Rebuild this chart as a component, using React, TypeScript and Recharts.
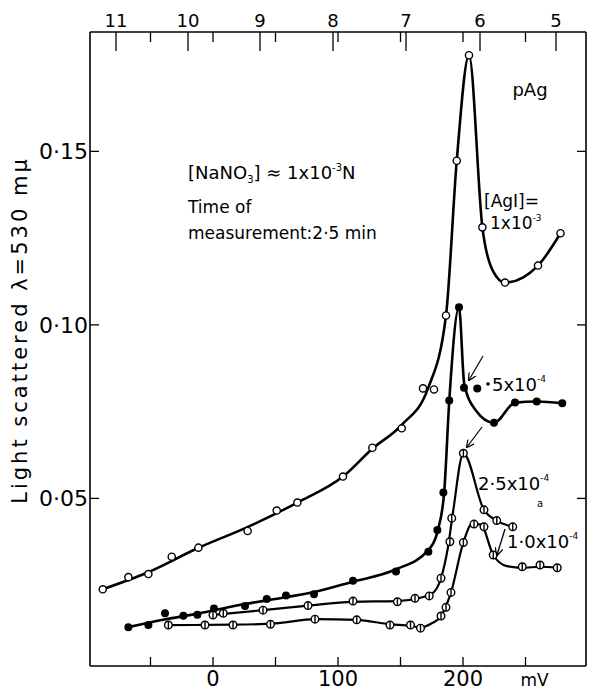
import React from 'react';
import { ComposedChart, Line, Scatter, XAxis, YAxis } from 'recharts';

// [mV, light scattered]
const agI1e3Points: [number, number][] = [
  [-88.2, 0.0238], [-67.7, 0.0273], [-51.7, 0.0282], [-33, 0.0332], [-11.7, 0.0358],
  [27.7, 0.0406], [51, 0.0465], [67.5, 0.0488], [104, 0.0563], [127.5, 0.0646],
  [151, 0.0702], [168, 0.0817], [176.8, 0.0814], [186.4, 0.1027], [195, 0.1473],
  [204.8, 0.1777], [215.5, 0.1281], [233.6, 0.1122], [260, 0.1171], [278, 0.1264],
];
const agI1e3Curve: [number, number][] = [
  [-88.2, 0.0238], [-52, 0.0287], [-12, 0.0357], [28, 0.0418], [67.5, 0.0488],
  [104, 0.0563], [127.5, 0.0643], [151, 0.0712], [172, 0.0817], [186.4, 0.1027],
  [195, 0.1473], [204.8, 0.1777], [215.5, 0.1281], [224, 0.1155], [233.6, 0.1122],
  [260, 0.1171], [278, 0.1264],
];

const agI5e4Points: [number, number][] = [
  [-67.7, 0.0129], [-51.7, 0.0135], [-38.4, 0.0169], [-23.7, 0.0162], [-12.5, 0.0165],
  [0.8, 0.0183], [25.6, 0.019], [43, 0.021], [58.4, 0.022], [80.8, 0.0224],
  [112, 0.0263], [146.4, 0.0289], [172.3, 0.0346], [179.5, 0.0409], [184.3, 0.0517],
  [189, 0.0782], [196.8, 0.1051], [200.8, 0.0819], [211.4, 0.0817], [224.8, 0.0718],
  [241.6, 0.0776], [259, 0.0779], [279.4, 0.0774],
];
const agI5e4Curve: [number, number][] = [
  [-67.7, 0.0129], [-40, 0.015], [-12, 0.0168], [20, 0.0192], [58, 0.0215],
  [81, 0.023], [112, 0.026], [146, 0.0295], [172, 0.035], [180, 0.041],
  [185, 0.052], [189, 0.078], [196.8, 0.1051], [201, 0.083], [210, 0.0755],
  [224.8, 0.0718], [241.6, 0.0776], [259, 0.0779], [279.4, 0.0774],
];

const agI25e5Points: [number, number][] = [
  [0, 0.0164], [8.2, 0.0169], [40, 0.0178], [76, 0.0191], [112, 0.0204],
  [147.5, 0.0202], [161.6, 0.0212], [173, 0.0219], [182.4, 0.027], [189.5, 0.0375],
  [191, 0.0443], [200.3, 0.063], [216.8, 0.0467], [227, 0.0436], [239.8, 0.0418],
];
const agI25e5Curve: [number, number][] = [
  [0, 0.0164], [40, 0.0178], [76, 0.0191], [112, 0.0202], [147, 0.0204],
  [165, 0.0213], [175, 0.0225], [182.4, 0.027], [188, 0.036], [192, 0.046],
  [200.3, 0.063], [216.8, 0.0467], [227, 0.0436], [239.8, 0.0418],
];

const agI1e4Points: [number, number][] = [
  [-35.7, 0.0135], [-6.4, 0.0135], [16, 0.0135], [46, 0.0137], [81.6, 0.0152],
  [115, 0.015], [141.6, 0.0135], [158, 0.0135], [166, 0.0126], [182.4, 0.0161],
  [186.4, 0.0186], [190.4, 0.0229], [200.3, 0.0373], [208.8, 0.0426], [216.8, 0.0418],
  [224.2, 0.0337], [247.4, 0.0303], [261.6, 0.0308], [275.4, 0.03],
];
const agI1e4Curve: [number, number][] = [
  [-35.7, 0.0135], [16, 0.0136], [50, 0.014], [82, 0.0152], [115, 0.015],
  [142, 0.0137], [158, 0.0133], [166, 0.0128], [175, 0.014], [182.4, 0.0161],
  [190.4, 0.0229], [200.3, 0.0373], [207, 0.0425], [214, 0.0425], [224.2, 0.0337],
  [235, 0.0305], [247.4, 0.03], [261.6, 0.0303], [275.4, 0.03],
];

// axis ticks
const mvTicks = [-50, 0, 50, 100, 150, 200, 250];
const mvLabels: Record<number, string> = { 0: '0', 100: '100', 200: '200', 250: 'mV' };
const pAgLabels = ['11', '10', '9', '8', '7', '6', '5'];
const pAgAtMv = [-77.6, -20, 37.6, 96, 154.4, 213.6, 274.4];
const lsTicks = [0.05, 0.1, 0.15];
const lsLabels = ['0·05', '0·10', '0·15'];

const toRows = (arr: [number, number][]) => arr.map(([mv, ls]) => ({ mv, ls }));

const W = 590;
const H = 691;
const PLOT = { left: 90, right: 586, top: 32, bottom: 666 };
const FONT = '"DejaVu Sans", sans-serif';

const BottomTick = (props: any) => {
  const { x, payload } = props;
  const label = mvLabels[payload.value];
  return (
    <g>
      <line x1={x} x2={x} y1={PLOT.bottom} y2={PLOT.bottom - 9} stroke="#000" strokeWidth={1.3} />
      {label && (
        <text x={label === 'mV' ? x + 9 : x} y={PLOT.bottom + 20} textAnchor="middle" fontSize={label === 'mV' ? 17 : 21} fontFamily={FONT} fill="#000">
          {label}
        </text>
      )}
    </g>
  );
};

const TopTick = (props: any) => {
  const { x, payload } = props;
  const i = pAgAtMv.indexOf(payload.value);
  if (i < 0) {
    return <line x1={x} x2={x} y1={PLOT.top} y2={PLOT.top + 10} stroke="#000" strokeWidth={1.3} />;
  }
  return (
    <g>
      <line x1={x} x2={x} y1={PLOT.top} y2={PLOT.top + 19} stroke="#000" strokeWidth={1.3} />
      <text x={x} y={PLOT.top - 5} textAnchor="middle" fontSize={18} fontFamily={FONT} fill="#000">
        {pAgLabels[i]}
      </text>
    </g>
  );
};

const LeftTick = (props: any) => {
  const { y, payload } = props;
  const i = lsTicks.indexOf(payload.value);
  return (
    <g>
      <line x1={PLOT.left} x2={PLOT.left + 9} y1={y} y2={y} stroke="#000" strokeWidth={1.3} />
      <text x={PLOT.left - 2} y={y + 8} textAnchor="end" fontSize={22} fontFamily={FONT} fill="#000">
        {lsLabels[i]}
      </text>
    </g>
  );
};

const RightTick = (props: any) => {
  const { y } = props;
  return <line x1={PLOT.right} x2={PLOT.right - 9} y1={y} y2={y} stroke="#000" strokeWidth={1.3} />;
};

const OpenDot = (p: any) => (
  <circle cx={p.cx} cy={p.cy} r={3.6} fill="#fff" stroke="#000" strokeWidth={1.4} />
);
const FilledDot = (p: any) => <circle cx={p.cx} cy={p.cy} r={4} fill="#000" />;
const BarDot = (p: any) => (
  <g>
    <circle cx={p.cx} cy={p.cy} r={3.8} fill="#fff" stroke="#000" strokeWidth={1.4} />
    <line x1={p.cx} x2={p.cx} y1={p.cy - 3.8} y2={p.cy + 3.8} stroke="#000" strokeWidth={1.4} />
  </g>
);

const lineProps = {
  xAxisId: 'mv',
  yAxisId: 'ls',
  dataKey: 'ls',
  type: 'monotone' as const,
  stroke: '#000',
  strokeWidth: 2.6,
  dot: false,
  activeDot: false,
  isAnimationActive: false,
};

const Annotations = () => (
  <svg width={W} height={H} style={{ position: 'absolute', left: 0, top: 0, pointerEvents: 'none' }} fontFamily={FONT}>
    <defs>
      <marker id="ah" markerWidth="8" markerHeight="8" refX="7" refY="4" orient="auto" markerUnits="userSpaceOnUse">
        <path d="M0,0 L8,4 L0,8" fill="none" stroke="#000" strokeWidth={1.2} />
      </marker>
    </defs>
    <text transform="translate(27,330) rotate(-90)" textAnchor="middle" fontSize={21} letterSpacing={3} fill="#000">
      Light scattered λ=530 mμ
    </text>
    <text x={530} y={96} textAnchor="middle" fontSize={18} fill="#000">pAg</text>

    <text x={188} y={179} fontSize={18} fill="#000">
      [NaNO<tspan fontSize={10} dy={4}>3</tspan><tspan dy={-4}>] ≈ 1x10</tspan>
      <tspan fontSize={10} dy={-8}>-3</tspan><tspan dy={8}>N</tspan>
    </text>
    <text x={188} y={213} fontSize={17} fill="#000">Time of</text>
    <text x={188} y={239} fontSize={17} fill="#000">measurement:2·5 min</text>

    <text x={484} y={207} fontSize={17} fill="#000">[AgI]=</text>
    <text x={490} y={229} fontSize={17} fill="#000">
      1x10<tspan fontSize={9} dy={-8}>-3</tspan>
    </text>

    <circle cx={488} cy={384} r={1.8} fill="#000" />
    <text x={492} y={391} fontSize={18} fill="#000">
      5x10<tspan fontSize={9} dy={-9}>-4</tspan>
    </text>
    <line x1={483} y1={356} x2={469} y2={380} stroke="#000" strokeWidth={1.2} markerEnd="url(#ah)" />

    <text x={478} y={490} fontSize={18} fill="#000">
      2·5x10<tspan fontSize={9} dy={-9}>-4</tspan>
    </text>
    <line x1={482} y1={427} x2={467} y2={447} stroke="#000" strokeWidth={1.2} markerEnd="url(#ah)" />
    <text x={540} y={507} textAnchor="middle" fontSize={10} fill="#000">a</text>

    <text x={507} y={548} fontSize={18} fill="#000">
      1·0x10<tspan fontSize={9} dy={-9}>-4</tspan>
    </text>
    <line x1={505} y1={529} x2={497} y2={555} stroke="#000" strokeWidth={1.3} markerEnd="url(#ah)" />
  </svg>
);

export default function App() {
  return (
    <div style={{ position: 'absolute', left: 0, top: 0, width: W, height: H, background: '#fff' }}>
      <ComposedChart width={W} height={H} margin={{ top: 0, right: 0, bottom: 0, left: 0 }}>
        <XAxis
          xAxisId="mv"
          dataKey="mv"
          type="number"
          orientation="bottom"
          domain={[-98.4, 298.4]}
          allowDataOverflow
          ticks={mvTicks}
          interval={0}
          height={H - PLOT.bottom}
          tickLine={false}
          tickSize={0}
          axisLine={{ stroke: '#000', strokeWidth: 1.6 }}
          tick={<BottomTick />}
        />
        <XAxis
          xAxisId="pag"
          dataKey="mv"
          type="number"
          orientation="top"
          domain={[-98.4, 298.4]}
          allowDataOverflow
          ticks={[...mvTicks, ...pAgAtMv]}
          interval={0}
          height={PLOT.top}
          tickLine={false}
          tickSize={0}
          axisLine={{ stroke: '#000', strokeWidth: 1.6 }}
          tick={<TopTick />}
        />
        <YAxis
          yAxisId="ls"
          dataKey="ls"
          type="number"
          orientation="left"
          domain={[0.0017, 0.1844]}
          allowDataOverflow
          ticks={lsTicks}
          interval={0}
          width={PLOT.left}
          tickLine={false}
          tickSize={0}
          axisLine={{ stroke: '#000', strokeWidth: 1.6 }}
          tick={<LeftTick />}
        />
        <YAxis
          yAxisId="ls2"
          dataKey="ls"
          type="number"
          orientation="right"
          domain={[0.0017, 0.1844]}
          allowDataOverflow
          ticks={lsTicks}
          interval={0}
          width={W - PLOT.right}
          tickLine={false}
          tickSize={0}
          axisLine={{ stroke: '#000', strokeWidth: 1.6 }}
          tick={<RightTick />}
        />

        <Line {...lineProps} data={toRows(agI1e3Curve)} />
        <Line {...lineProps} data={toRows(agI5e4Curve)} />
        <Line {...lineProps} data={toRows(agI25e5Curve)} strokeWidth={2.2} />
        <Line {...lineProps} data={toRows(agI1e4Curve)} strokeWidth={2.2} />

        <Scatter xAxisId="mv" yAxisId="ls" data={toRows(agI1e3Points)} shape={OpenDot} isAnimationActive={false} />
        <Scatter xAxisId="mv" yAxisId="ls" data={toRows(agI5e4Points)} shape={FilledDot} isAnimationActive={false} />
        <Scatter xAxisId="mv" yAxisId="ls" data={toRows(agI25e5Points)} shape={BarDot} isAnimationActive={false} />
        <Scatter xAxisId="mv" yAxisId="ls" data={toRows(agI1e4Points)} shape={BarDot} isAnimationActive={false} />
      </ComposedChart>
      <Annotations />
    </div>
  );
}
